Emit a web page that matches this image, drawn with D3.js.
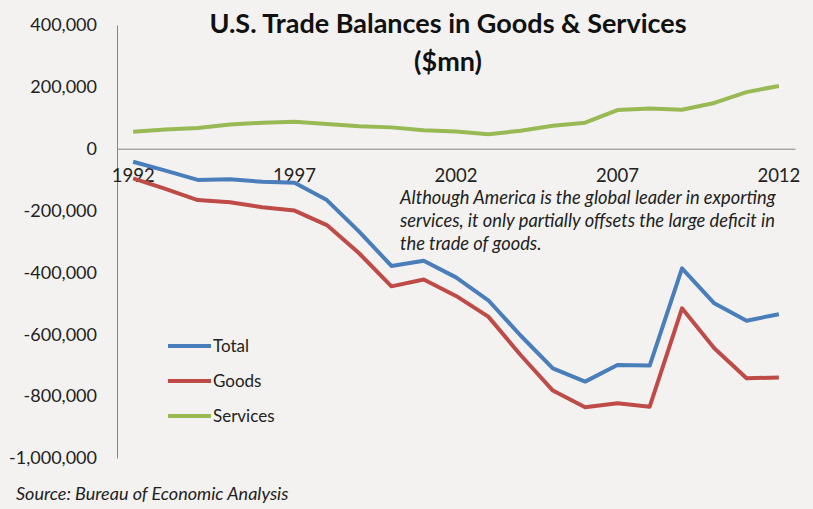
<!DOCTYPE html>
<html>
<head>
<meta charset="utf-8">
<script src="https://cdn.jsdelivr.net/npm/d3@7"></script>
<style>
  html, body { margin: 0; padding: 0; background: #f3f2f0; }
  svg { display: block; font-family: Lato, "Open Sans", sans-serif; }
</style>
</head>
<body>
<svg id="chart"></svg>
<script>
const years = d3.range(1992, 2013);
const totalValues = [-42000, -71000, -101000, -99000, -107000, -110000, -166000, -268000, -379000, -362000, -416000, -490000, -604000, -710000, -753000, -699000, -701000, -387000, -500000, -556000, -535000];
const goodsValues = [-96000, -130000, -166000, -173000, -189000, -200000, -247000, -338000, -445000, -423000, -476000, -543000, -667000, -782000, -836000, -823000, -834000, -516000, -645000, -742000, -740000];
const servicesValues = [55000, 62000, 67000, 78000, 84000, 87000, 80000, 73000, 69000, 60000, 56000, 47000, 58000, 74000, 84000, 125000, 130000, 126000, 148000, 183000, 203000];
const yTicks = [400000, 200000, 0, -200000, -400000, -600000, -800000, -1000000];
const xTickYears = [1992, 1997, 2002, 2007, 2012];
const seriesNames = ["Total", "Goods", "Services"];

const width = 813, height = 509;
const colors = { Total: "#4a7ebb", Goods: "#be4b48", Services: "#98b954" };

const svg = d3.select("#chart")
    .attr("width", width)
    .attr("height", height);

const series = [
    { name: "Total", values: totalValues },
    { name: "Goods", values: goodsValues },
    { name: "Services", values: servicesValues }
];

const x = d3.scaleBand()
    .domain(years)
    .range([117, 795]);

const y = d3.scaleLinear()
    .domain([-1000000, 400000])
    .range([458, 25]);

const fmt = d3.format(",");

// y-Achse
const yAxis = svg.append("g")
    .attr("transform", "translate(117,0)")
    .call(d3.axisLeft(y).tickValues(yTicks).tickSize(0).tickPadding(20).tickFormat(d => fmt(d).replace("−", "-")));
yAxis.select(".domain").attr("stroke", "#868686");
yAxis.selectAll("text")
    .attr("font-family", "Lato, sans-serif")
    .attr("font-size", 18)
    .attr("fill", "#222");

// x-Achse auf der Nulllinie
const xAxis = svg.append("g")
    .attr("transform", `translate(0,${y(0)})`)
    .call(d3.axisBottom(x).tickValues(xTickYears).tickSize(0).tickPadding(20));
xAxis.select(".domain").attr("stroke", "#868686");
xAxis.selectAll("text")
    .attr("font-family", "Lato, sans-serif")
    .attr("font-size", 18.5)
    .attr("fill", "#222");

const line = d3.line()
    .x((d, i) => x(years[i]) + x.bandwidth() / 2)
    .y(d => y(d));

svg.selectAll(".series")
    .data(series)
    .enter().append("path")
    .attr("class", "series")
    .attr("fill", "none")
    .attr("stroke", d => colors[d.name])
    .attr("stroke-width", 4)
    .attr("stroke-linejoin", "round")
    .attr("d", d => line(d.values));

// Titel
const title = svg.append("text")
    .attr("x", 448)
    .attr("text-anchor", "middle")
    .attr("font-weight", "bold")
    .attr("font-size", 27)
    .attr("fill", "#111");
title.append("tspan").attr("x", 448).attr("y", 33).text("U.S. Trade Balances in Goods & Services");
title.append("tspan").attr("x", 448).attr("y", 71).text("($mn)");

// Anmerkung
const note = ["Although America is the global leader in exporting",
    "services, it only partially offsets the large deficit in",
    "the trade of goods."];
svg.append("g").selectAll("text")
    .data(note)
    .enter().append("text")
    .attr("x", 400)
    .attr("y", (d, i) => 204 + i * 23)
    .attr("font-style", "italic")
    .attr("font-size", 18.3)
    .attr("fill", "#222")
    .text(d => d);

// Legende
const legend = svg.append("g").selectAll("g")
    .data(seriesNames)
    .enter().append("g")
    .attr("transform", (d, i) => `translate(168,${346 + i * 35})`);
legend.append("line")
    .attr("x1", 0).attr("x2", 43)
    .attr("stroke", d => colors[d])
    .attr("stroke-width", 4);
legend.append("text")
    .attr("x", 45)
    .attr("dy", "0.35em")
    .attr("font-size", 17)
    .attr("fill", "#222")
    .text(d => d);

svg.append("text")
    .attr("x", 16)
    .attr("y", 500)
    .attr("font-style", "italic")
    .attr("font-size", 18)
    .attr("fill", "#222")
    .text("Source: Bureau of Economic Analysis");
</script>
</body>
</html>
